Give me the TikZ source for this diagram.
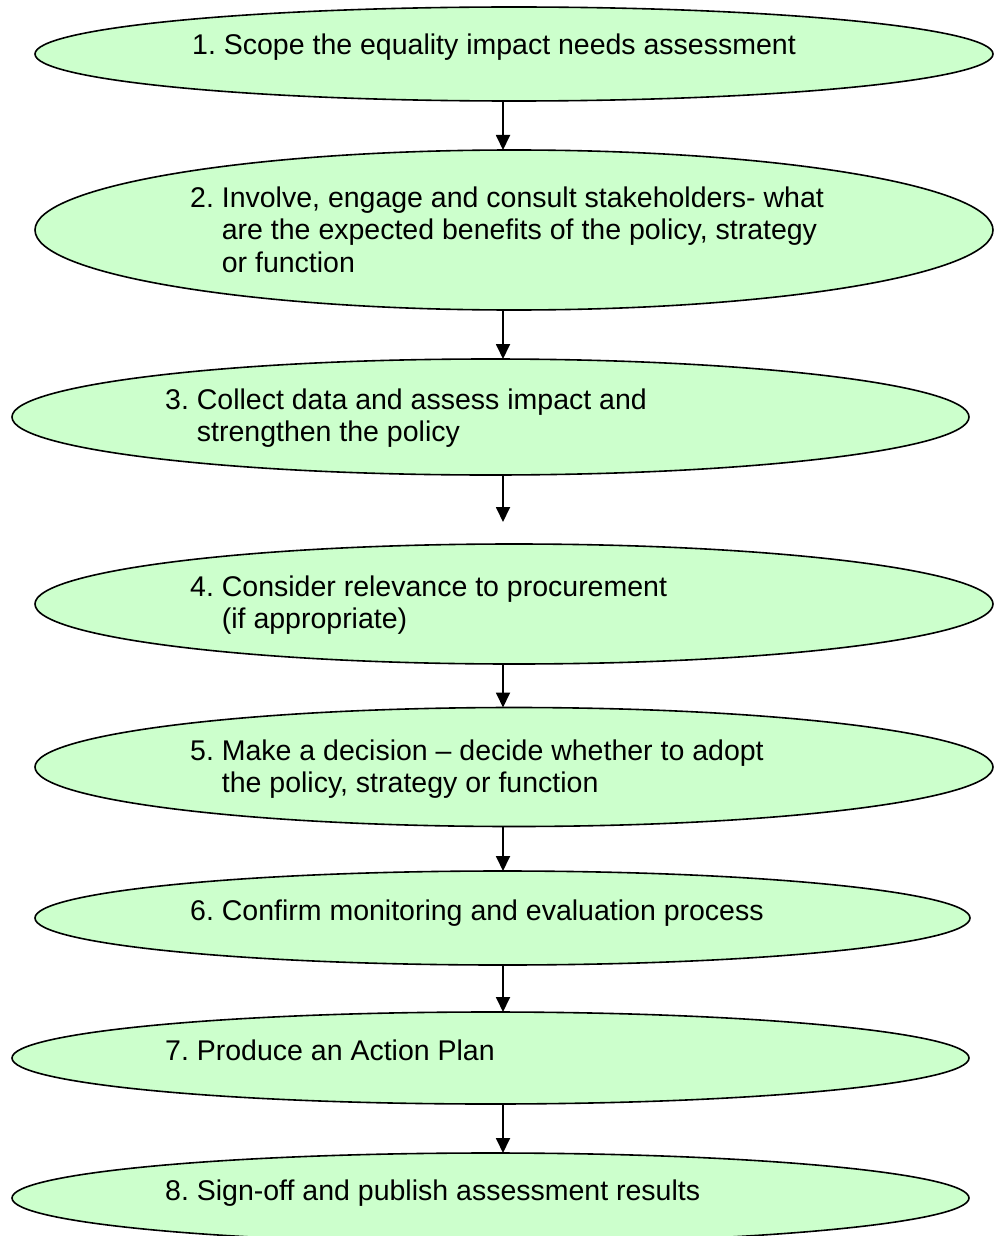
\documentclass[tikz,border=0pt]{standalone}
\usepackage{fontspec}
\setmainfont{Liberation Sans}
\usetikzlibrary{shapes.geometric,arrows.meta}
\definecolor{stagegreen}{HTML}{CCFFCC}
\newcommand{\subline}{\hspace*{31.7pt}}
\frenchspacing
\begin{document}
\begin{tikzpicture}[x=1pt,y=-1pt,
	stage/.style={ellipse,draw,fill=stagegreen,line width=1.6pt,inner sep=0pt,outer sep=0pt},
	flow/.style={-{Triangle[width=14pt,length=15pt]},line width=1.8pt},
	txt/.style={anchor=base west,inner sep=0pt,font=\fontsize{28.5}{32.5}\selectfont}]
	\useasboundingbox (0,0) rectangle (1002,1236);
	\clip (0,0) rectangle (1002,1236);
	% the eight stages
	\node[stage,minimum width=958pt,minimum height=94pt] (e1) at (514,54) {};
	\node[stage,minimum width=958pt,minimum height=160pt] (e2) at (514,230) {};
	\node[stage,minimum width=957pt,minimum height=116pt] (e3) at (490.5,417) {};
	\node[stage,minimum width=958pt,minimum height=120pt] (e4) at (514,604) {};
	\node[stage,minimum width=958pt,minimum height=119pt] (e5) at (514,767) {};
	\node[stage,minimum width=935pt,minimum height=94pt] (e6) at (502.5,918) {};
	\node[stage,minimum width=957pt,minimum height=92pt] (e7) at (490.5,1058) {};
	\node[stage,minimum width=957pt,minimum height=90pt] (e8) at (490.5,1198) {};

	\node[txt] (t1) at (192,55) {1. Scope the equality impact needs assessment};
	\node[txt] (t2) at (190,207) {\begin{tabular}[t]{@{}l@{}}2. Involve, engage and consult stakeholders- what\\
		\subline are the expected benefits of the policy, strategy\\
		\subline or function\end{tabular}};
	\node[txt] (t3) at (165,409) {\begin{tabular}[t]{@{}l@{}}3. Collect data and assess impact and\\
		\subline strengthen the policy\end{tabular}};
	\node[txt] (t4) at (190,596) {\begin{tabular}[t]{@{}l@{}}4. Consider relevance to procurement\\
		\subline (if appropriate)\end{tabular}};
	\node[txt] (t5) at (190,760) {\begin{tabular}[t]{@{}l@{}}5. Make a decision -- decide whether to adopt\\
		\subline the policy, strategy or function\end{tabular}};
	\node[txt] (t6) at (190,920) {6. Confirm monitoring and evaluation process};
	\node[txt] (t7) at (165,1060) {7. Produce an Action Plan};
	\node[txt] (t8) at (165,1200) {8. Sign-off and publish assessment results};

	% arrows
	\coordinate (ax) at (503,0);
	\coordinate (a4) at (503,522);
	\foreach \a/\b in {e1/e2,e2/e3,e4/e5,e5/e6,e6/e7,e7/e8}
		\draw[flow] (\a.south -| ax) -- (\b.north -| ax);
	\draw[flow] (e3.south -| ax) -- (a4);
\end{tikzpicture}
\end{document}
